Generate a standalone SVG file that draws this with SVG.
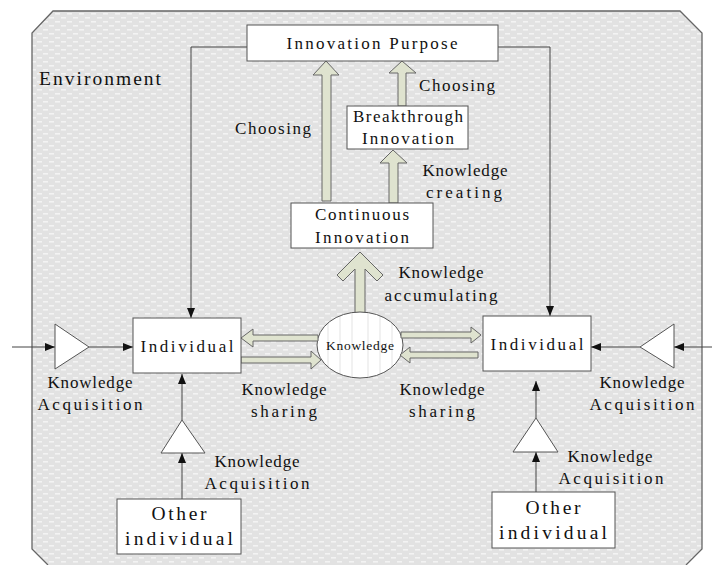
<svg xmlns="http://www.w3.org/2000/svg" width="712" height="565" viewBox="0 0 712 565">
<style>
text{font-family:"Liberation Serif","DejaVu Serif",serif;fill:#111;text-anchor:middle;dominant-baseline:central;font-size:17px}
.box{fill:#fff;stroke:#555;stroke-width:1}
.tri{fill:#fff;stroke:#555;stroke-width:1}
.ln{fill:none;stroke:#444;stroke-width:1;marker-end:url(#ah)}
.blk{fill:#dfe3cf;stroke:#666;stroke-width:1;stroke-linejoin:miter}
.big{font-size:19.5px}
</style>
<defs>
<pattern id="bg" width="12" height="8" patternUnits="userSpaceOnUse">
<rect width="12" height="8" fill="#e2e2e2"/>
<rect x="1" y="1" width="5" height="1.6" fill="#f3f3f3"/>
<rect x="7" y="5" width="5" height="1.6" fill="#f3f3f3"/>
</pattern>
<marker id="ah" viewBox="0 0 10 8" refX="10" refY="4" markerWidth="11" markerHeight="8" markerUnits="userSpaceOnUse" orient="auto">
<path d="M0,0 L10,4 L0,8 Z" fill="#111"/>
</marker>
<clipPath id="ec"><ellipse cx="360" cy="345" rx="43" ry="33"/></clipPath>
</defs>

<g id="environment">
<path d="M53,11 L680,11 L702,33 L702,549 L686,565 L48,565 L32,549 L32,33 Z" fill="url(#bg)"/>
<path d="M48,565 L32,549 L32,33 L53,11 L680,11 L702,33 L702,549 L686,565" fill="none" stroke="#666" stroke-width="1.3"/>
<text x="39" y="78" class="big" style="text-anchor:start" textLength="122" lengthAdjust="spacing">Environment</text>
</g>

<g id="connectors">
<path class="ln" d="M247,47 H191 V318"/>
<path class="ln" d="M498,47 H550 V316"/>
<path class="ln" d="M12,347 H55"/>
<path class="ln" d="M89,347 H133"/>
<path class="ln" d="M712,347 H674"/>
<path class="ln" d="M640,347 H591"/>
<path class="ln" d="M182,499 V453"/>
<path class="ln" d="M182,420 V374"/>
<path class="ln" d="M536,492 V452"/>
<path class="ln" d="M536,418 V381"/>
<path class="blk" d="M326,61 L339,75 L331,75 L331,201 L322,201 L322,75 L313,75 Z"/>
<path class="blk" d="M402,61 L416,73 L406,73 L406,106 L398,106 L398,73 L389,73 Z"/>
<path class="blk" d="M393,150 L407,163 L398,163 L398,203 L389,203 L389,163 L380,163 Z"/>
<path class="blk" d="M360,252 L383,275 L377,281 L365,269 L365,313 L355,313 L355,269 L343,281 L337,275 Z"/>
</g>

<g id="innovation-purpose">
<rect class="box" x="247" y="25" width="251" height="36"/>
<text x="372" y="43" textLength="171" lengthAdjust="spacing">Innovation Purpose</text>
</g>
<text x="273" y="128" textLength="76" lengthAdjust="spacing">Choosing</text>
<text x="457" y="85" textLength="76" lengthAdjust="spacing">Choosing</text>

<g id="breakthrough">
<rect class="box" x="347" y="106" width="121" height="43"/>
<text x="408" y="116" textLength="110" lengthAdjust="spacing">Breakthrough</text>
<text x="408" y="138" textLength="92" lengthAdjust="spacing">Innovation</text>
</g>
<text x="465" y="170" textLength="85" lengthAdjust="spacing">Knowledge</text>
<text x="464" y="192" textLength="76" lengthAdjust="spacing">creating</text>

<g id="continuous">
<rect class="box" x="291" y="203" width="142" height="45"/>
<text x="362" y="214" textLength="94" lengthAdjust="spacing">Continuous</text>
<text x="362" y="237" textLength="94" lengthAdjust="spacing">Innovation</text>
</g>
<text x="441" y="272" textLength="85" lengthAdjust="spacing">Knowledge</text>
<text x="441" y="295" textLength="113" lengthAdjust="spacing">accumulating</text>

<g id="knowledge">
<ellipse cx="360" cy="345" rx="43" ry="33" fill="#fff"/>
<g clip-path="url(#ec)" stroke="#ececec" stroke-width="1.5">
<path d="M328,300 V390 M340,300 V390 M352,300 V390 M368,300 V390 M380,300 V390 M392,300 V390"/>
</g>
<ellipse cx="360" cy="345" rx="43" ry="33" fill="none" stroke="#555"/>
<text x="360" y="345" style="font-size:13.5px" textLength="68" lengthAdjust="spacing">Knowledge</text>
</g>

<g id="sharing-arrows">
<path class="blk" d="M241,338 L253,329 L253,335 L318,335 L318,341 L253,341 L253,347 Z"/>
<path class="blk" d="M241,357 L311,357 L311,351 L321,360 L311,369 L311,363 L241,363 Z"/>
<path class="blk" d="M401,332 L471,332 L471,327 L481,335 L471,343 L471,338 L401,338 Z"/>
<path class="blk" d="M400,355 L410,347 L410,352 L478,352 L478,358 L410,358 L410,363 Z"/>
</g>

<g id="individual-left">
<rect class="box" x="133" y="318" width="108" height="55"/>
<text x="187" y="346" textLength="93" lengthAdjust="spacing">Individual</text>
</g>
<g id="individual-right">
<rect class="box" x="483" y="316" width="108" height="55"/>
<text x="537" y="344" textLength="93" lengthAdjust="spacing">Individual</text>
</g>

<g id="acq-left">
<polygon class="tri" points="55,324 55,369 89,347"/>
<text x="90" y="382" textLength="85" lengthAdjust="spacing">Knowledge</text>
<text x="90" y="404" textLength="105" lengthAdjust="spacing">Acquisition</text>
</g>
<g id="acq-right">
<polygon class="tri" points="674,324 674,368 640,347"/>
<text x="642" y="382" textLength="85" lengthAdjust="spacing">Knowledge</text>
<text x="642" y="404" textLength="105" lengthAdjust="spacing">Acquisition</text>
</g>
<text x="284" y="389" textLength="85" lengthAdjust="spacing">Knowledge</text>
<text x="284" y="411" textLength="66" lengthAdjust="spacing">sharing</text>
<text x="442" y="389" textLength="85" lengthAdjust="spacing">Knowledge</text>
<text x="442" y="411" textLength="66" lengthAdjust="spacing">sharing</text>

<g id="acq-bottom-left">
<polygon class="tri" points="182,420 161,453 205,453"/>
<text x="257" y="461" textLength="85" lengthAdjust="spacing">Knowledge</text>
<text x="257" y="483" textLength="105" lengthAdjust="spacing">Acquisition</text>
</g>
<g id="other-left">
<rect class="box" x="117" y="499" width="124" height="55"/>
<text x="179" y="513" class="big" textLength="55" lengthAdjust="spacing">Other</text>
<text x="179" y="538" class="big" textLength="108" lengthAdjust="spacing">individual</text>
</g>

<g id="acq-bottom-right">
<polygon class="tri" points="536,418 513,452 558,452"/>
<text x="610" y="456" textLength="85" lengthAdjust="spacing">Knowledge</text>
<text x="611" y="478" textLength="105" lengthAdjust="spacing">Acquisition</text>
</g>
<g id="other-right">
<rect class="box" x="492" y="492" width="123" height="56"/>
<text x="553" y="507" class="big" textLength="55" lengthAdjust="spacing">Other</text>
<text x="553" y="532" class="big" textLength="108" lengthAdjust="spacing">individual</text>
</g>
</svg>
